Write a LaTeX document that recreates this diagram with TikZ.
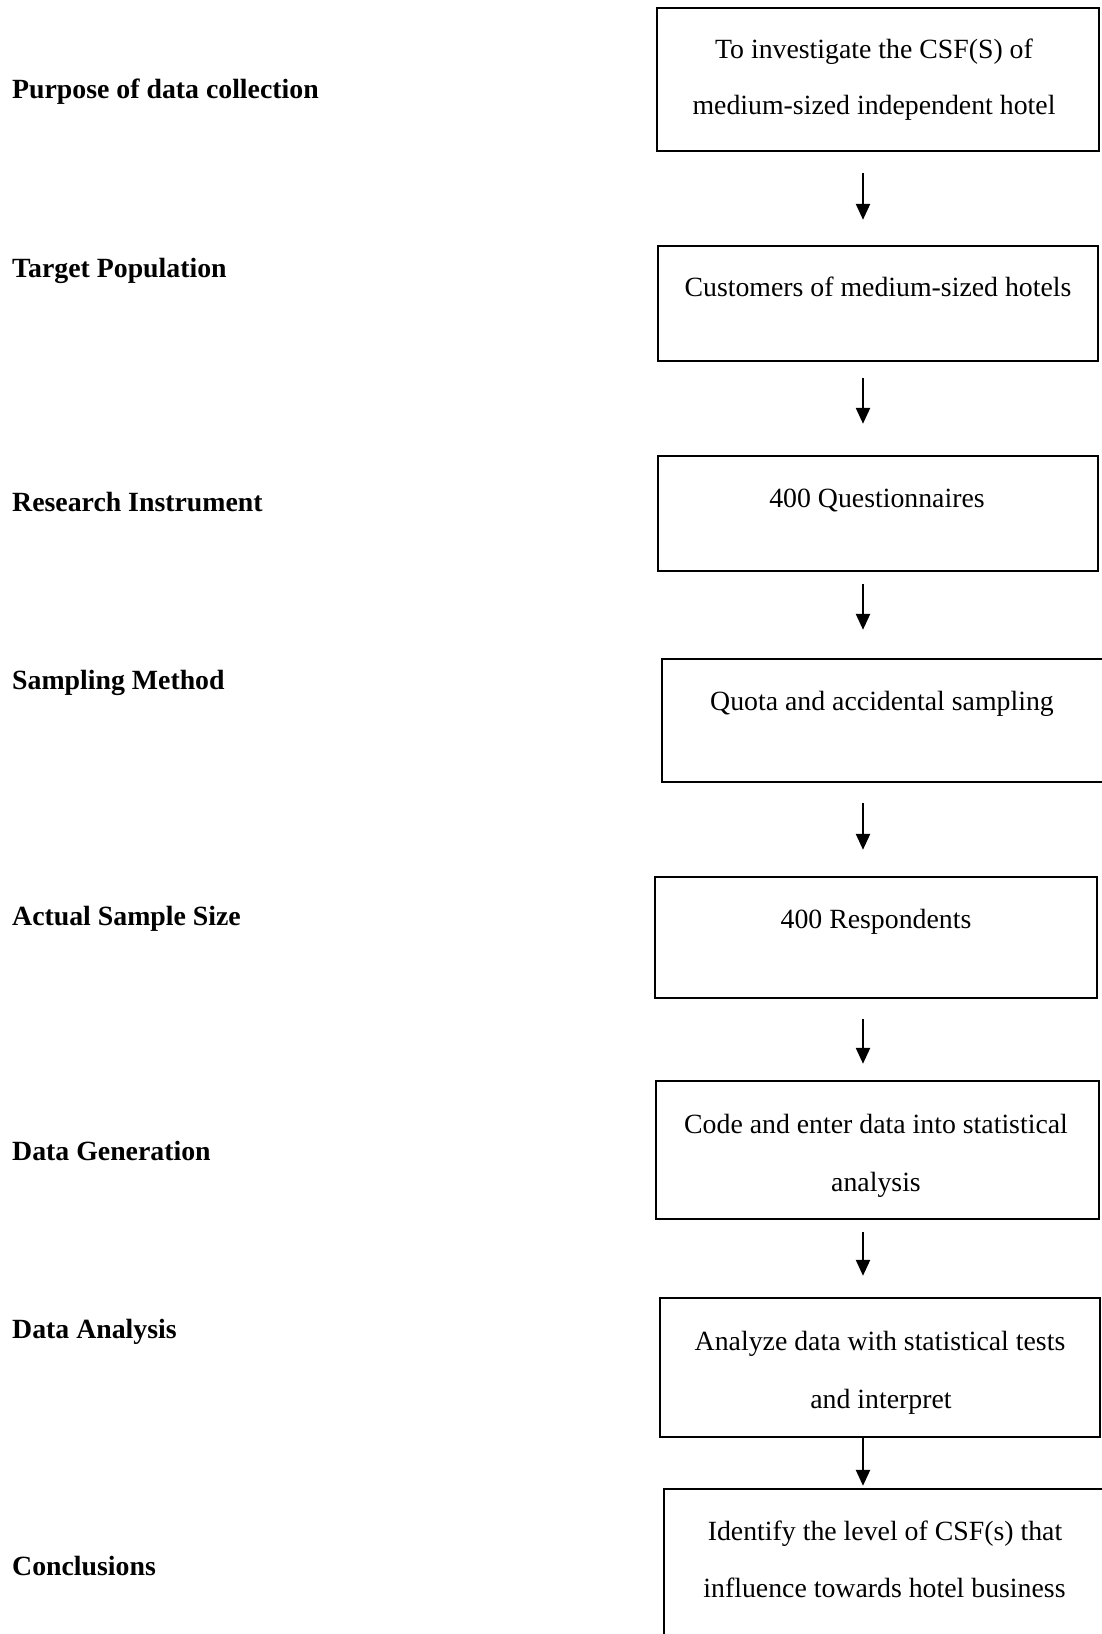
\documentclass[tikz,border=0pt]{standalone}
\usepackage{fontspec}
\setmainfont{Liberation Serif}
\usetikzlibrary{arrows.meta}
\tikzset{
  box/.style={draw, line width=2.4pt, inner sep=0pt, rectangle},
  txt/.style={anchor=base, inner sep=0pt, font=\fontsize{27.8}{34}\selectfont},
  lab/.style={anchor=base west, inner sep=0pt, font=\fontsize{27.8}{34}\selectfont\bfseries},
  arr/.style={line width=2.4pt, -{Triangle[width=14pt,length=16pt]}}
}
\begin{document}
\begin{tikzpicture}[x=1pt,y=-1pt]
\useasboundingbox (0,0) rectangle (1101,1634);
% left labels
\node[lab] (l1) at (12,98) {Purpose of data collection};
\node[lab] (l2) at (12,277) {Target Population};
\node[lab] (l3) at (12,511) {Research Instrument};
\node[lab] (l4) at (12,689) {Sampling Method};
\node[lab] (l5) at (12,925) {Actual Sample Size};
\node[lab] (l6) at (12,1160) {Data Generation};
\node[lab] (l7) at (12,1338) {Data Analysis};
\node[lab] (l8) at (12,1575) {Conclusions};
% boxes
\node[box, minimum width=442pt, minimum height=143pt] (b1) at (878,79.5) {};
\node[box, minimum width=440pt, minimum height=115pt] (b2) at (878,303.5) {};
\node[box, minimum width=440pt, minimum height=115pt] (b3) at (878,513.5) {};
\node[box, minimum width=453pt, minimum height=123pt] (b4) at (888.5,720.5) {};
\node[box, minimum width=442pt, minimum height=121pt] (b5) at (876,937.5) {};
\node[box, minimum width=443pt, minimum height=138pt] (b6) at (877.5,1150) {};
\node[box, minimum width=440pt, minimum height=139pt] (b7) at (880,1367.5) {};
\node[box, minimum width=456pt, minimum height=171pt] (b8) at (892,1574.5) {};
% box texts
\node[txt] (t1a) at (874,58) {To investigate the CSF(S) of};
\node[txt] (t1b) at (874,114) {medium-sized independent hotel};
\node[txt] (t2) at (878,296) {Customers of medium-sized hotels};
\node[txt] (t3) at (877,507) {400 Questionnaires};
\node[txt] (t4) at (882,710) {Quota and accidental sampling};
\node[txt] (t5) at (876,928) {400 Respondents};
\node[txt] (t6a) at (876,1133) {Code and enter data into statistical};
\node[txt] (t6b) at (876,1191) {analysis};
\node[txt] (t7a) at (880,1350) {Analyze data with statistical tests};
\node[txt] (t7b) at (881,1408) {and interpret};
\node[txt] (t8a) at (885,1540) {Identify the level of CSF(s) that};
\node[txt] (t8b) at (884.5,1597) {influence towards hotel business};
% arrows
\coordinate (ax) at (863,0);
\draw[arr, shorten <=21pt, shorten >=25pt] (b1.south -| ax) -- (b2.north -| ax);
\draw[arr, shorten <=16pt, shorten >=31pt] (b2.south -| ax) -- (b3.north -| ax);
\draw[arr, shorten <=12pt, shorten >=28pt] (b3.south -| ax) -- (b4.north -| ax);
\draw[arr, shorten <=20pt, shorten >=26pt] (b4.south -| ax) -- (b5.north -| ax);
\draw[arr, shorten <=20pt, shorten >=16pt] (b5.south -| ax) -- (b6.north -| ax);
\draw[arr, shorten <=12pt, shorten >=21pt] (b6.south -| ax) -- (b7.north -| ax);
\draw[arr, shorten >=2pt] (b7.south -| ax) -- (b8.north -| ax);
\end{tikzpicture}
\end{document}
